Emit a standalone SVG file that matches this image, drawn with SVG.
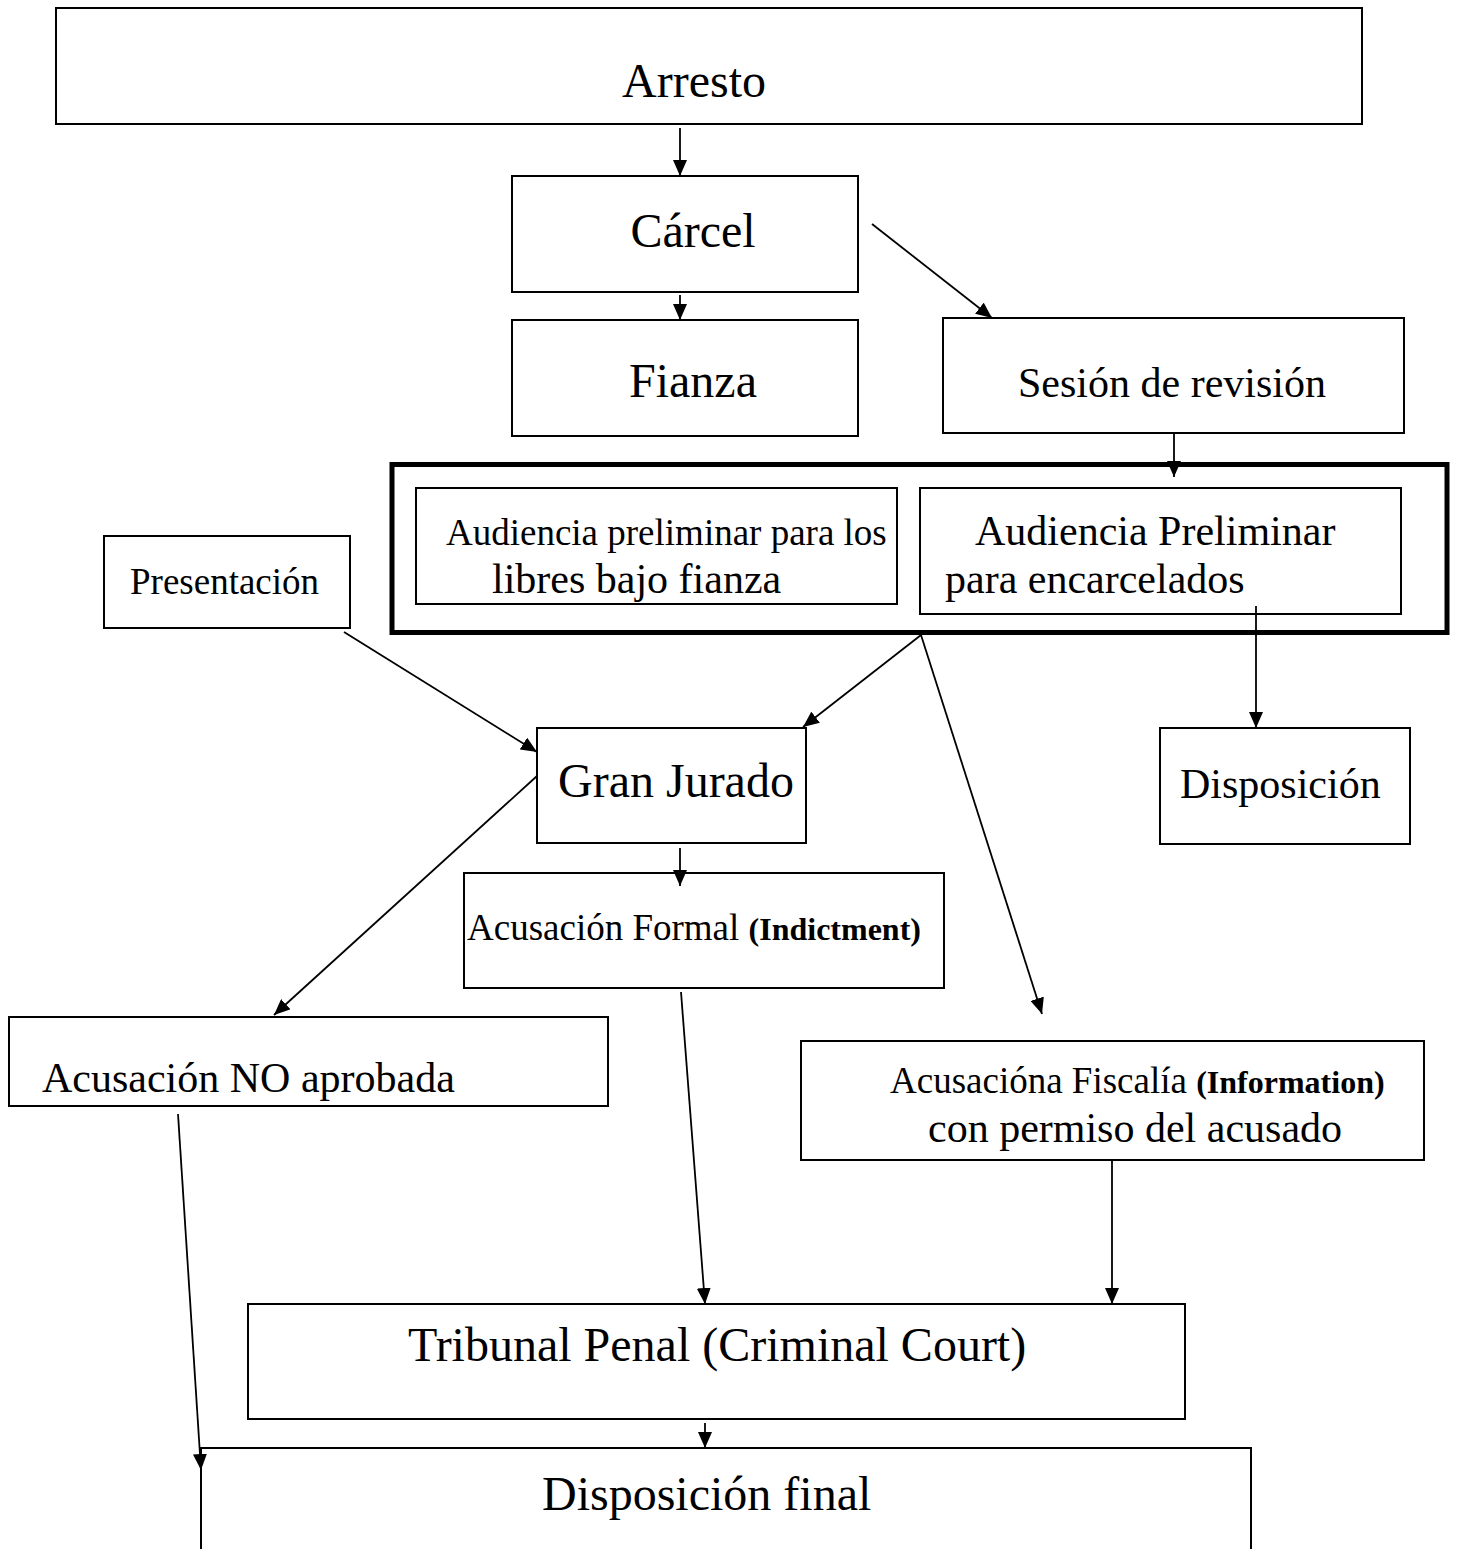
<svg xmlns="http://www.w3.org/2000/svg" width="1458" height="1549" viewBox="0 0 1458 1549">
<style>
.box{fill:#fff;stroke:#000;stroke-width:2}
.t{font-family:"Liberation Serif","Times New Roman",serif;fill:#000}
.l{font-size:48px}.m{font-size:42px}.s{font-size:37px}
.b{font-weight:bold;font-size:32px}
.c{stroke:#000;stroke-width:1.8;fill:none;marker-end:url(#ah)}
</style>
<defs>
<marker id="ah" markerUnits="userSpaceOnUse" markerWidth="16" markerHeight="14" viewBox="0 0 16 14" refX="16" refY="7" orient="auto">
<path d="M0,0 L16,7 L0,14 Z" fill="#000"/>
</marker>
</defs>
<rect width="1458" height="1549" fill="#fff"/>
<g id="arresto"><rect class="box" x="56" y="8" width="1306" height="116"/><text class="t l" x="694" y="97" text-anchor="middle">Arresto</text></g>
<g id="carcel"><rect class="box" x="512" y="176" width="346" height="116"/><text class="t l" x="693" y="247" text-anchor="middle">Cárcel</text></g>
<g id="fianza"><rect class="box" x="512" y="320" width="346" height="116"/><text class="t l" x="693" y="397" text-anchor="middle">Fianza</text></g>
<g id="sesion"><rect class="box" x="943" y="318" width="461" height="115"/><text class="t m" x="1018" y="397">Sesión de revisión</text></g>
<g id="audiencias"><rect x="392" y="464.5" width="1055" height="168" fill="none" stroke="#000" stroke-width="5"/></g>
<g id="aud-libres"><rect class="box" x="416" y="488" width="481" height="116"/><text class="t s" x="446" y="545">Audiencia preliminar para los</text><text class="t m" x="492" y="593">libres bajo fianza</text></g>
<g id="aud-encarcelados"><rect class="box" x="920" y="488" width="481" height="126"/><text class="t m" x="975" y="545">Audiencia Preliminar</text><text class="t m" x="945" y="593">para encarcelados</text></g>
<g id="presentacion"><rect class="box" x="104" y="536" width="246" height="92"/><text class="t s" x="130" y="594">Presentación</text></g>
<g id="gran-jurado"><rect class="box" x="537" y="728" width="269" height="115"/><text class="t l" x="558" y="797">Gran Jurado</text></g>
<g id="disposicion"><rect class="box" x="1160" y="728" width="250" height="116"/><text class="t m" x="1180" y="798">Disposición</text></g>
<g id="acusacion-formal"><rect class="box" x="464" y="873" width="480" height="115"/><text class="t s" x="467" y="940">Acusación Formal <tspan class="b">(Indictment)</tspan></text></g>
<g id="acusacion-no"><rect class="box" x="9" y="1017" width="599" height="89"/><text class="t m" x="42" y="1092">Acusación NO aprobada</text></g>
<g id="acusacion-fiscalia"><rect class="box" x="801" y="1041" width="623" height="119"/><text class="t s" x="890" y="1093">Acusacióna Fiscalía <tspan class="b">(Information)</tspan></text><text class="t m" x="928" y="1142">con permiso del acusado</text></g>
<g id="tribunal"><rect class="box" x="248" y="1304" width="937" height="115"/><text class="t l" x="408" y="1361">Tribunal Penal (Criminal Court)</text></g>
<g id="disposicion-final"><rect class="box" x="201" y="1448" width="1050" height="130"/><text class="t l" x="542" y="1510">Disposición final</text></g>
<g id="connectors">
<line class="c" x1="680" y1="128" x2="680" y2="176"/>
<line class="c" x1="680" y1="295" x2="680" y2="320"/>
<line class="c" x1="872" y1="224" x2="992" y2="318"/>
<line class="c" x1="1174" y1="433" x2="1174" y2="477"/>
<line class="c" x1="344" y1="632" x2="537" y2="752"/>
<line class="c" x1="921" y1="635" x2="803" y2="727"/>
<line class="c" x1="921" y1="635" x2="1042" y2="1014"/>
<line class="c" x1="1256" y1="606" x2="1256" y2="728"/>
<line class="c" x1="537" y1="776" x2="274" y2="1015"/>
<line class="c" x1="680" y1="848" x2="680" y2="886"/>
<line class="c" x1="681" y1="992" x2="705" y2="1304"/>
<line class="c" x1="1112" y1="1160" x2="1112" y2="1304"/>
<line class="c" x1="178" y1="1114" x2="201" y2="1470"/>
<line class="c" x1="705" y1="1423" x2="705" y2="1448"/>
</g>
</svg>
